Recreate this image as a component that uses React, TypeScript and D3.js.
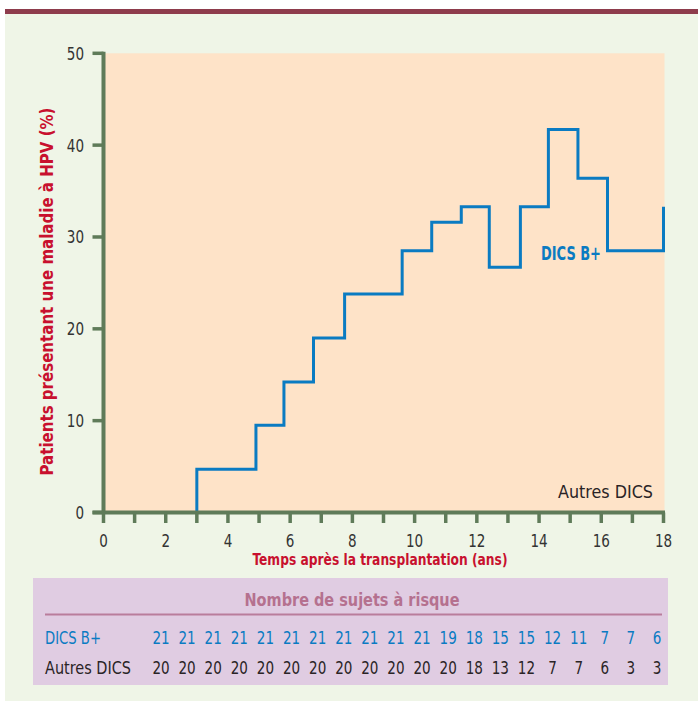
import React from "react";
import * as d3 from "d3";

// ---- data ----
const stepTimes = [3.0, 3.0, 4.9, 5.8, 6.75, 7.75, 9.6, 10.55, 11.5, 12.4, 13.4, 14.3, 15.25, 16.2, 18.0];
const stepValues = [0, 4.7, 9.5, 14.2, 19.0, 23.8, 28.5, 31.6, 33.3, 26.7, 33.3, 41.7, 36.4, 28.5, 33.3];
const yTicks = [0, 10, 20, 30, 40, 50];
const xTicks = d3.range(0, 19);
const xTickLabels = [0, 2, 4, 6, 8, 10, 12, 14, 16, 18];
const atRiskB = [21, 21, 21, 21, 21, 21, 21, 21, 21, 21, 21, 19, 18, 15, 15, 12, 11, 7, 7, 6];
const atRiskOther = [20, 20, 20, 20, 20, 20, 20, 20, 20, 20, 20, 20, 18, 13, 12, 7, 7, 6, 3, 3];
const seriesNames = ["DICS B+", "Autres DICS"];

const W = 698;
const H = 701;
const COND = "'Liberation Sans Narrow', 'DejaVu Sans Condensed', 'Roboto Condensed', 'Arial Narrow', sans-serif";
const AXIS = "#5f7b59";
const BLUE = "#0a7bc2";
const RED = "#c8102e";
const DARK = "#2a2426";
const DIGIT = 8.6;

function Num(props: { x: number; y: number; v: number; anchor: string; fill: string; size?: number }) {
  const s = String(props.v);
  return (
    <text
      x={props.x}
      y={props.y}
      textAnchor={props.anchor}
      fontSize={props.size || 18}
      fill={props.fill}
      textLength={s.length * DIGIT}
      lengthAdjust="spacingAndGlyphs"
    >
      {s}
    </text>
  );
}

export default function App() {
  const x = d3.scaleLinear().domain([0, 18]).range([103.5, 663.5]);
  const y = d3.scaleLinear().domain([0, 50]).range([512.5, 53.3]);
  const pts: [number, number][] = stepTimes.map((t, i) => [t, stepValues[i]]);
  const line = d3
    .line<[number, number]>()
    .x((d) => x(d[0]))
    .y((d) => y(d[1]))
    .curve(d3.curveStepAfter);
  const col = d3.scalePoint<number>().domain(d3.range(atRiskB.length)).range([161, 657]);

  return (
    <svg
      width={W}
      height={H}
      style={{ position: "absolute", left: 0, top: 0, display: "block" }}
      fontFamily={COND}
    >
      <rect x={0} y={0} width={W} height={H} fill="#ffffff" />
      <rect x={5} y={14} width={W - 5} height={H - 14} fill="#eff5e7" />
      <rect x={5} y={9} width={W - 5} height={5} fill="#8e3c4c" />

      {/* plot area */}
      <rect x={x(0)} y={y(50)} width={x(18) - x(0) + 1} height={y(0) - y(50)} fill="#fee3c8" />

      {/* step line */}
      <path d={line(pts) || ""} fill="none" stroke={BLUE} strokeWidth={3} strokeLinejoin="miter" />

      {/* axes */}
      <line x1={x(0)} x2={x(0)} y1={y(50) - 1.5} y2={y(0)} stroke={AXIS} strokeWidth={4} />
      <line x1={92.5} x2={x(18) + 1.5} y1={y(0)} y2={y(0)} stroke={AXIS} strokeWidth={4} />
      {yTicks.map((t) => (
        <g key={"y" + t}>
          <line x1={92.5} x2={x(0)} y1={y(t)} y2={y(t)} stroke={AXIS} strokeWidth={3.5} />
          <Num x={84} y={y(t) + 6.5} v={t} anchor="end" fill="#333" />
        </g>
      ))}
      {xTicks.map((t) => (
        <line key={"x" + t} x1={x(t)} x2={x(t)} y1={y(0)} y2={523} stroke={AXIS} strokeWidth={3.5} />
      ))}
      {xTickLabels.map((t) => (
        <Num key={"xl" + t} x={x(t)} y={547} v={t} anchor="middle" fill="#333" />
      ))}

      {/* axis titles */}
      <text
        x={380}
        y={564.5}
        textAnchor="middle"
        fontSize={16}
        fontWeight="bold"
        fill={RED}
        textLength={255}
        lengthAdjust="spacingAndGlyphs"
      >
        Temps après la transplantation (ans)
      </text>
      <text
        transform="translate(53,291.5) rotate(-90)"
        textAnchor="middle"
        fontSize={17.5}
        fontWeight="bold"
        fill={RED}
        textLength={368}
        lengthAdjust="spacingAndGlyphs"
      >
        Patients présentant une maladie à HPV (%)
      </text>

      {/* series labels */}
      <text x={541} y={259.5} fontSize={19} fontWeight="bold" fill={BLUE} textLength={60} lengthAdjust="spacingAndGlyphs">
        {seriesNames[0]}
      </text>
      <text x={653} y={497.5} textAnchor="end" fontSize={17} fill={DARK} textLength={95} lengthAdjust="spacingAndGlyphs">
        {seriesNames[1]}
      </text>

      {/* at-risk table */}
      <rect x={33} y={578} width={635} height={107} fill="#e0cce2" />
      <text
        x={352}
        y={606}
        textAnchor="middle"
        fontSize={18}
        fontWeight="bold"
        fill="#b5718f"
        textLength={215}
        lengthAdjust="spacingAndGlyphs"
      >
        Nombre de sujets à risque
      </text>
      <line x1={45} x2={662} y1={614.5} y2={614.5} stroke="#b97d9c" strokeWidth={2} />
      <text x={45} y={643.5} fontSize={18} fill={BLUE} textLength={56} lengthAdjust="spacingAndGlyphs">
        {seriesNames[0]}
      </text>
      <text x={45} y={673.5} fontSize={18} fill={DARK} textLength={86} lengthAdjust="spacingAndGlyphs">
        {seriesNames[1]}
      </text>
      {atRiskB.map((v, i) => (
        <Num key={"b" + i} x={col(i) as number} y={643.5} v={v} anchor="middle" fill={BLUE} />
      ))}
      {atRiskOther.map((v, i) => (
        <Num key={"o" + i} x={col(i) as number} y={673.5} v={v} anchor="middle" fill={DARK} />
      ))}
    </svg>
  );
}
